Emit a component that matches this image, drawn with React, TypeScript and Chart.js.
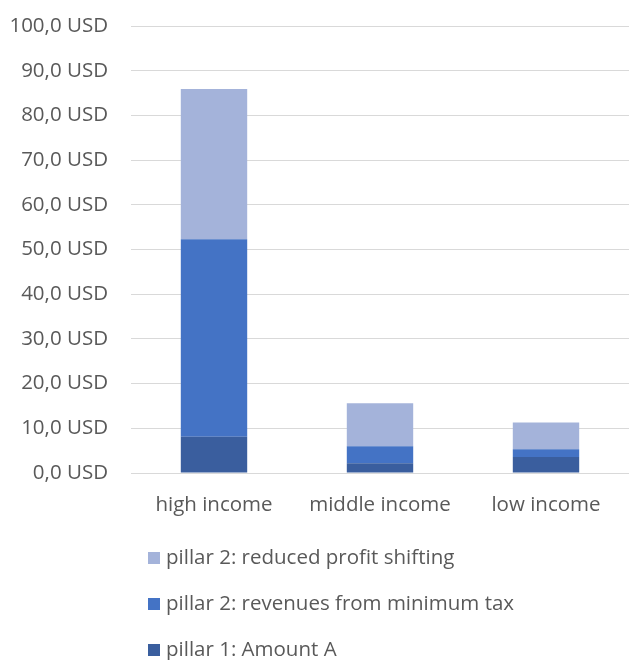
import React, { useEffect, useRef } from "react";
import { Chart, registerables } from "chart.js";

Chart.register(...registerables);

const categories = ["high income", "middle income", "low income"];
const amountA = [8.1, 2.2, 3.6];
const minimumTax = [44.2, 3.8, 1.7];
const profitShifting = [33.6, 9.6, 6.0];
const seriesNames = [
  "pillar 1: Amount A",
  "pillar 2: revenues from minimum tax",
  "pillar 2: reduced profit shifting",
];
const yTickLabels = [
  "0,0 USD", "10,0 USD", "20,0 USD", "30,0 USD", "40,0 USD", "50,0 USD",
  "60,0 USD", "70,0 USD", "80,0 USD", "90,0 USD", "100,0 USD",
];

const FONT = "'Open Sans', sans-serif";
const TEXT = "#595959";
const SIZE = 20.5;

const legendPlugin = {
  id: "verticalLegend",
  afterDraw(chart: any) {
    const ctx = chart.ctx;
    const ds = chart.data.datasets;
    const order = [2, 1, 0];
    const rowY = [558, 604, 650];
    ctx.save();
    ctx.font = `${SIZE}px ${FONT}`;
    ctx.textBaseline = "middle";
    ctx.textAlign = "left";
    order.forEach((di, i) => {
      const y = rowY[i];
      ctx.fillStyle = ds[di].backgroundColor;
      ctx.fillRect(148, y - 6, 12, 12);
      ctx.fillStyle = TEXT;
      ctx.fillText(ds[di].label, 166, y);
    });
    ctx.restore();
  },
};

export default function App() {
  const ref = useRef<HTMLCanvasElement>(null);
  useEffect(() => {
    const chart = new Chart(ref.current!, {
      type: "bar",
      data: {
        labels: categories,
        datasets: [
          { label: seriesNames[0], data: amountA, backgroundColor: "#3A5E9E" },
          { label: seriesNames[1], data: minimumTax, backgroundColor: "#4473C5" },
          { label: seriesNames[2], data: profitShifting, backgroundColor: "#A4B3DA" },
        ],
      },
      options: {
        animation: false,
        responsive: false,
        maintainAspectRatio: false,
        layout: { padding: { top: 26, bottom: 137, left: 0, right: 0 } },
        datasets: { bar: { barPercentage: 0.4, categoryPercentage: 1 } },
        plugins: { legend: { display: false }, tooltip: { enabled: false } },
        scales: {
          x: {
            stacked: true,
            grid: { display: false },
            border: { display: false },
            ticks: { color: TEXT, font: { family: FONT, size: SIZE }, padding: 12 },
            afterFit: (s: any) => { s.height = 50; },
          },
          y: {
            stacked: true,
            min: 0,
            max: 100,
            border: { display: false },
            grid: { color: "#d9d9d9", lineWidth: 1, drawTicks: false },
            ticks: {
              stepSize: 10,
              padding: 23,
              color: TEXT,
              font: { family: FONT, size: SIZE },
              callback: (_v: any, i: number) => yTickLabels[i],
            },
            afterFit: (s: any) => {
              s.width = 131;
              s.paddingTop = 0;
              s.paddingBottom = 0;
            },
          },
        },
      },
      plugins: [legendPlugin],
    });
    return () => chart.destroy();
  }, []);
  return (
    <div style={{ position: "absolute", left: 0, top: 0, width: 629, height: 660, background: "#fff" }}>
      <canvas ref={ref} width={629} height={660} style={{ display: "block", width: 629, height: 660 }} />
    </div>
  );
}
